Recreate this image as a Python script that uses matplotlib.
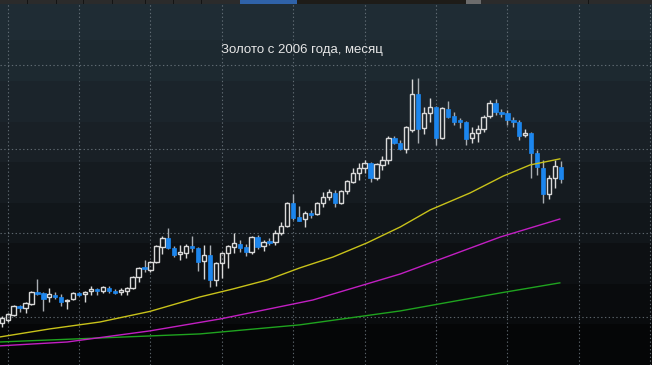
# Gold monthly candles since 2006 with three moving averages, dark terminal look
import numpy as np
import matplotlib.pyplot as plt
from matplotlib.patches import Rectangle

title = "Золото с 2006 года, месяц"

# monthly OHLC, first candle is Dec 2005
opens = [465, 482, 512, 566, 554, 578, 649, 643, 619, 631, 619, 595, 607, 643, 637, 655,
         667, 655, 673, 655, 649, 655, 673, 738, 798, 780, 828, 917, 970, 911, 875, 881,
         923, 911, 834, 869, 720, 822, 881, 917, 935, 917, 887, 976, 923, 953, 947, 1000,
         1042, 1179, 1095, 1083, 1119, 1113, 1179, 1214, 1238, 1179, 1250, 1304, 1357, 1387,
         1417, 1328, 1405, 1435, 1566, 1536, 1500, 1613, 1827, 1625, 1714, 1750, 1566, 1738,
         1697, 1673, 1661, 1566, 1595, 1619, 1697, 1774, 1720, 1714, 1673, 1661, 1583, 1595,
         1476, 1387, 1232, 1328, 1393]
highs = [506, 524, 570, 572, 590, 655, 726, 649, 673, 649, 637, 607, 649, 649, 655, 685,
         673, 685, 685, 667, 673, 679, 744, 798, 839, 834, 929, 982, 1030, 923, 929, 935,
         982, 917, 929, 929, 828, 887, 929, 1000, 959, 935, 982, 988, 959, 970, 1018, 1066,
         1185, 1232, 1161, 1131, 1137, 1185, 1244, 1262, 1256, 1256, 1316, 1387, 1417, 1435,
         1423, 1417, 1458, 1577, 1577, 1554, 1637, 1917, 1923, 1750, 1804, 1756, 1750, 1786,
         1720, 1685, 1667, 1631, 1643, 1702, 1792, 1798, 1738, 1732, 1691, 1673, 1619, 1601,
         1494, 1435, 1345, 1435, 1429]
lows = [441, 470, 506, 530, 524, 572, 631, 536, 590, 607, 566, 548, 601, 625, 590, 631,
        631, 643, 643, 637, 631, 631, 667, 709, 768, 768, 822, 875, 905, 857, 839, 851,
        887, 774, 726, 679, 685, 732, 792, 881, 887, 863, 875, 905, 893, 929, 929, 988,
        1036, 1078, 1070, 1036, 1089, 1107, 1155, 1197, 1155, 1173, 1232, 1298, 1316, 1357,
        1304, 1316, 1375, 1411, 1530, 1494, 1476, 1601, 1536, 1589, 1661, 1524, 1560, 1685,
        1643, 1625, 1524, 1536, 1542, 1601, 1685, 1702, 1691, 1643, 1631, 1554, 1572, 1328,
        1345, 1179, 1203, 1268, 1298]
closes = [494, 518, 566, 554, 584, 649, 637, 607, 637, 619, 590, 601, 643, 631, 649, 667,
          655, 679, 655, 643, 661, 673, 738, 792, 786, 828, 923, 970, 911, 869, 887, 923,
          911, 828, 869, 720, 822, 881, 923, 941, 911, 887, 976, 917, 947, 941, 1000, 1042,
          1179, 1089, 1072, 1119, 1107, 1179, 1214, 1244, 1179, 1250, 1310, 1357, 1387, 1417,
          1328, 1411, 1435, 1566, 1536, 1500, 1631, 1827, 1619, 1714, 1750, 1566, 1744, 1691,
          1661, 1661, 1560, 1595, 1619, 1691, 1774, 1720, 1708, 1673, 1661, 1577, 1595, 1476,
          1393, 1232, 1328, 1399, 1322]

# moving averages (month index, price)
ma_yellow_x = [-0.3, 8.1, 16.5, 24.9, 33.3, 38.9, 44.6, 50.1, 55.7, 61.4, 67.0, 72.0, 78.7, 84.3, 88.8, 93.8]
ma_yellow_y = [381, 429, 470, 533, 619, 667, 720, 792, 857, 941, 1036, 1137, 1238, 1339, 1405, 1441]
ma_magenta_x = [-0.3, 11.0, 24.9, 36.7, 52.3, 67.0, 83.8, 93.8]
ma_magenta_y = [328, 351, 417, 488, 601, 756, 976, 1083]
ma_green_x = [-0.3, 33.3, 50.1, 67.0, 83.8, 93.8]
ma_green_y = [351, 399, 453, 536, 643, 703]

W, H = 652, 365
fig = plt.figure(figsize=(W / 100, H / 100), dpi=100)
ax = fig.add_axes([0, 0, 1, 1])
ax.set_xlim(-0.29, 109.3)
ax.set_ylim(214, 2387)

# banded dark background, lighter at the top
bands = ['#1f2c34', '#1d2930', '#1b242b', '#192026', '#151b20',
         '#11161a', '#0d1013', '#090b0d', '#050607']
rgb = np.array([[int(c[i:i + 2], 16) / 255 for i in (1, 3, 5)] for c in bands])
ax.imshow(rgb[:, None, :], extent=[0, 1, 0, 1], transform=ax.transAxes,
          aspect='auto', interpolation='nearest', zorder=0)

# dotted grid: every January and every 500
grid_kw = dict(color='#77828a', lw=0.8, linestyle=(0, (1.2, 2.2)), alpha=0.75, zorder=1)
for gx in range(1, 110, 12):
    ax.axvline(gx, **grid_kw)
for gy in [500, 1000, 1500, 2000]:
    ax.axhline(gy, **grid_kw)

# moving averages
ax.plot(ma_green_x, ma_green_y, color='#1fa31f', lw=1.0, zorder=2)
ax.plot(ma_magenta_x, ma_magenta_y, color='#c21fc2', lw=1.0, zorder=2)

# candles
up_col = '#d9d9d9'
down_col = '#1c86ee'
bw = 0.72
for i in range(len(opens)):
    o, h, l, c = opens[i], highs[i], lows[i], closes[i]
    top, bot = max(o, c), min(o, c)
    if c >= o:
        ax.vlines(i, top, h, color=up_col, lw=1, zorder=3)
        ax.vlines(i, l, bot, color=up_col, lw=1, zorder=3)
        ax.add_patch(Rectangle((i - bw / 2, bot), bw, max(top - bot, 4),
                               facecolor='none', edgecolor=up_col, lw=1, zorder=4))
    else:
        ax.vlines(i, l, h, color='#a9aeb3', lw=1, zorder=3)
        ax.add_patch(Rectangle((i - bw / 2, bot), bw, max(top - bot, 8),
                               facecolor=down_col, edgecolor=down_col, lw=0.5, zorder=4))

ax.plot(ma_yellow_x, ma_yellow_y, color='#c8c21a', lw=1.0, zorder=5)

ax.set_xticks([])
ax.set_yticks([])
for s in ax.spines.values():
    s.set_visible(False)

# title
ax.text(302 / W, 1 - 50 / H, title, transform=ax.transAxes, ha='center', va='center',
        color='#e6e6e6', fontsize=9.5, family=['Liberation Sans', 'DejaVu Sans'], zorder=6)

# toolbar strip at the very top
def strip(x0, x1, color):
    fig.patches.append(Rectangle((x0 / W, 1 - 4 / H), (x1 - x0) / W, 4 / H,
                                 transform=fig.transFigure, facecolor=color, edgecolor='none'))

strip(0, W, '#2b2b2b')
strip(240, 297, '#2f62a8')
strip(297, 466, '#1e1c18')
strip(466, 481, '#6c6c6c')
for sx in [27, 56, 83, 112, 145, 173, 201, 588]:
    strip(sx, sx + 1, '#141414')

fig.savefig('out.png', dpi=100, facecolor='#050607')
